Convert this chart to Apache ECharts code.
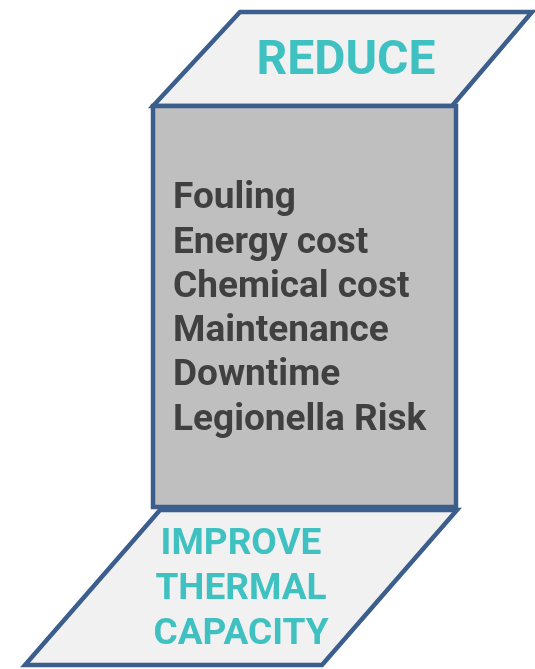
<!DOCTYPE html>
<html><head><meta charset="utf-8">
<script src="https://cdn.jsdelivr.net/npm/echarts@6/dist/echarts.min.js"></script>
<style>html,body{margin:0;padding:0;background:#fff}#c{width:535px;height:669px}</style>
</head><body><div id="c"></div>
<script>
// Diagram data
const panelNames = ['REDUCE', 'BODY', 'IMPROVE'];
const reducePanel = [[240, 12], [532, 12], [452, 106], [153, 106]];
const bodyPanel = [[153, 106], [456, 106], [456, 507], [153, 507]];
const improvePanel = [[160, 510], [457, 510], [322, 665], [25, 665]];
const panelFills = ['#f1f1f1', '#bfbfbf', '#f1f1f1'];
const reduceLabel = 'REDUCE';
const listItems = ['Fouling', 'Energy cost', 'Chemical cost', 'Maintenance', 'Downtime', 'Legionella Risk'];
const improveLines = ['IMPROVE', 'THERMAL', 'CAPACITY'];

const panels = [reducePanel, bodyPanel, improvePanel];
const chart = echarts.init(document.getElementById('c'));

const textEls = [];
textEls.push({
  type: 'text', x: 346, y: 62, z: 100,
  style: { text: reduceLabel, font: 'bold 48px Roboto', fill: '#3fc1c1', align: 'center', verticalAlign: 'middle' }
});
listItems.forEach((t, i) => {
  textEls.push({
    type: 'text', x: 173, y: 199 + i * 44.3, z: 100,
    style: { text: t, font: 'bold 37px Roboto', fill: '#404040', align: 'left', verticalAlign: 'middle' }
  });
});
improveLines.forEach((t, i) => {
  textEls.push({
    type: 'text', x: 241, y: 545 + i * 45, z: 100,
    style: { text: t, font: 'bold 37px Roboto', fill: '#3fc1c1', align: 'center', verticalAlign: 'middle' }
  });
});

chart.setOption({
  animation: false,
  grid: { left: 0, right: 0, top: 0, bottom: 0 },
  xAxis: { type: 'value', min: 0, max: 535, show: false },
  yAxis: { type: 'value', min: 0, max: 669, inverse: true, show: false },
  series: [{
    type: 'custom',
    coordinateSystem: 'cartesian2d',
    z: 1,
    data: panels.map((p, i) => [i]),
    renderItem: function (params, api) {
      const idx = api.value(0);
      const pts = panels[idx].map(pt => api.coord(pt));
      return {
        type: 'polygon',
        shape: { points: pts },
        style: { fill: panelFills[idx], stroke: '#3c5e8d', lineWidth: 4.5, lineJoin: 'miter' }
      };
    }
  }],
  graphic: { elements: textEls }
});
</script></body></html>
